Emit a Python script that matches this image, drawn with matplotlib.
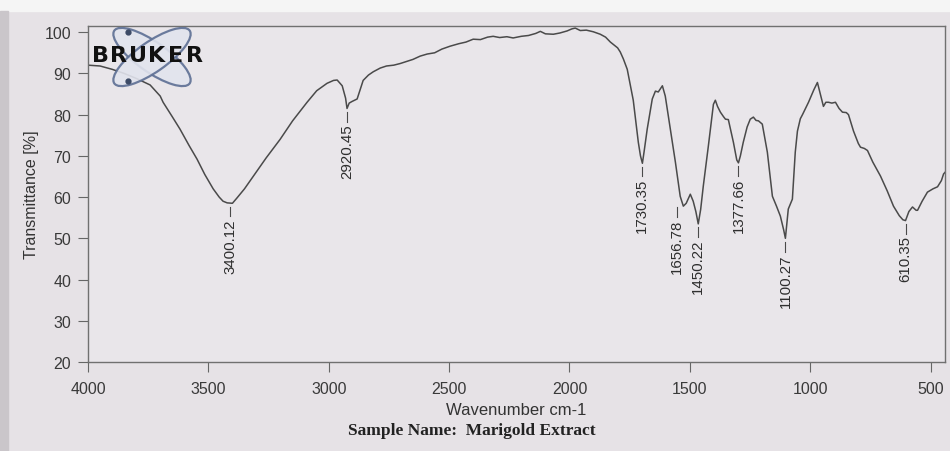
import matplotlib
matplotlib.use("Agg")
import matplotlib.pyplot as plt
from matplotlib.patches import Ellipse, Rectangle

plt.rcParams['font.family'] = ['Liberation Sans', 'DejaVu Sans']

# spectrum (wavenumber cm-1, transmittance %)
wavenumber = [4000, 3950, 3900, 3850, 3800, 3742, 3700, 3688, 3650, 3618,
              3580, 3547, 3515, 3480, 3455, 3439, 3422, 3400, 3381, 3350,
              3314, 3260, 3202, 3150, 3090, 3050, 3007, 2980, 2965, 2944,
              2930, 2924, 2915, 2903, 2882, 2870, 2857, 2835, 2815, 2786,
              2760, 2730, 2703, 2650, 2620, 2591, 2560, 2530, 2496, 2460,
              2430, 2400, 2370, 2340, 2317, 2290, 2260, 2234, 2200, 2170,
              2140, 2121, 2100, 2067, 2040, 2010, 1990, 1976, 1955, 1930,
              1901, 1872, 1850, 1830, 1800, 1789, 1776, 1760, 1735, 1714,
              1705, 1697, 1690, 1677, 1656, 1643, 1631, 1614, 1602, 1581,
              1560, 1540, 1527, 1515, 1498, 1486, 1475, 1465, 1455, 1444,
              1423, 1402, 1394, 1385, 1373, 1360, 1352, 1340, 1319, 1305,
              1298, 1290, 1278, 1262, 1249, 1236, 1225, 1215, 1199, 1178,
              1157, 1140, 1124, 1110, 1103, 1096, 1091, 1074, 1062, 1053,
              1041, 1032, 1007, 985, 970, 958, 945, 935, 924, 910,
              895, 880, 866, 850, 841, 820, 800, 791, 775, 762,
              740, 708, 680, 654, 630, 615, 604, 590, 575, 560,
              554, 535, 513, 490, 471, 455, 446, 440]
transmittance = [92.0, 91.8, 91.0, 90.0, 88.8, 87.2, 84.5, 83.0, 79.5, 76.5,
                 72.5, 69.2, 65.5, 62.0, 60.0, 59.0, 58.6, 58.5, 59.8, 62.0,
                 65.0, 69.5, 74.0, 78.5, 83.0, 85.8, 87.6, 88.3, 88.4, 87.0,
                 84.0, 81.5, 82.8, 83.2, 83.8, 86.0, 88.3, 89.6, 90.4, 91.3,
                 91.8, 92.0, 92.4, 93.4, 94.2, 94.7, 95.0, 95.9, 96.6, 97.2,
                 97.6, 98.3, 98.2, 98.8, 99.0, 98.7, 98.9, 98.6, 99.0, 99.2,
                 99.7, 100.2, 99.6, 99.5, 99.8, 100.3, 100.8, 101.0, 100.4, 100.5,
                 100.1, 99.5, 98.8, 97.6, 96.2, 95.2, 93.5, 91.0, 83.5, 73.3,
                 70.0, 68.2, 71.0, 76.5, 83.8, 85.7, 85.5, 87.0, 84.5, 76.5,
                 68.5, 60.2, 57.8, 58.5, 60.7, 59.0, 56.5, 53.5, 57.0, 62.7,
                 72.4, 82.5, 83.5, 82.0, 80.6, 79.5, 78.9, 78.8, 73.3, 69.0,
                 68.3, 70.0, 73.3, 77.0, 78.9, 79.4, 78.6, 78.5, 77.7, 70.9,
                 60.2, 57.8, 55.4, 52.0, 50.0, 54.0, 57.1, 59.5, 70.9, 76.0,
                 79.0, 80.0, 83.0, 86.0, 87.8, 85.0, 82.0, 83.0, 83.0, 82.8,
                 83.0, 81.5, 80.6, 80.5, 80.0, 76.0, 73.0, 72.1, 71.8, 71.3,
                 68.5, 65.1, 61.5, 57.8, 55.5, 54.5, 54.3, 56.5, 57.6, 56.8,
                 56.8, 59.0, 61.2, 62.0, 62.5, 64.0, 65.6, 66.0]

# peak labels and where they sit on the drawn curve
peak_text = ["3400.12", "2920.45", "1730.35", "1656.78", "1450.22",
             "1377.66", "1100.27", "610.35"]
peak_x = [3410, 2924, 1700, 1552, 1465, 1298, 1103, 604]
peak_y = [58.5, 81.5, 68.2, 58.3, 53.5, 68.3, 50.0, 54.3]

x_ticks = [4000, 3500, 3000, 2500, 2000, 1500, 1000, 500]
y_ticks = [20, 30, 40, 50, 60, 70, 80, 90, 100]

paper = '#e6e2e6'
ink = '#4a4a4a'

fig = plt.figure(figsize=(9.5, 4.52), dpi=100, facecolor=paper)
ax = fig.add_axes([88/950, 1-363/452, 857/950, 336/452])
ax.set_facecolor('#e9e6ea')

ax.plot(wavenumber, transmittance, color=ink, lw=1.1)

for t, px, py in zip(peak_text, peak_x, peak_y):
    ax.plot([px, px], [py - 0.8, py - 3.2], color=ink, lw=0.8)
    ax.text(px, py - 3.6, t, rotation=90, ha='center', va='top',
            fontsize=10.8, color='#2e2e2e')

ax.set_xlim(4000, 440)
ax.set_ylim(20, 101.5)
ax.set_xticks(x_ticks)
ax.set_yticks(y_ticks)
ax.tick_params(direction='out', length=7, color='#666666',
               labelsize=11.5, labelcolor='#3a3a3a')
ax.tick_params(axis='x', pad=7)
ax.tick_params(axis='y', pad=5)
for s in ax.spines.values():
    s.set_color('#707070')
    s.set_linewidth(1.0)

ax.set_xlabel("Wavenumber cm-1", fontsize=12, color='#333333', labelpad=4)
ax.set_ylabel("Transmittance [%]", fontsize=11.5, color='#333333', labelpad=4)

fig.text(348/950, 1-431/452, "Sample Name:  Marigold Extract",
         family='Liberation Serif', fontweight='bold', fontsize=12.5,
         color='#222222', va='center', ha='left')

# photo edges
fig.patches.append(Rectangle((0, 1-12/452), 1, 12/452, transform=fig.transFigure,
                             color='#f5f5f5', zorder=-1))
fig.patches.append(Rectangle((0, 0), 8/950, 1-12/452, transform=fig.transFigure,
                             color='#cac6ca', zorder=-1))

# Bruker logo
lg = fig.add_axes([88/950, 1-92/452, 124/950, 64/452])
lg.set_xlim(88, 212)
lg.set_ylim(92, 28)
lg.set_aspect('equal')
lg.axis('off')
for ang in (35, -35):
    lg.add_patch(Ellipse((152, 58), 92, 30, angle=ang, fc='#e2e4ee',
                         ec='#5d6f94', lw=1.6, alpha=0.9))
lg.plot([128, 128], [33, 82], 'o', color='#3c4a66', ms=3.5, ls='none')
for i, ch in enumerate("BRUKER"):
    lg.text(100 + i * 18.8, 56, ch, family='DejaVu Sans', fontsize=16,
            fontweight='bold', color='#111111', ha='center', va='center')

fig.savefig("out.png", dpi=100, facecolor=paper)
